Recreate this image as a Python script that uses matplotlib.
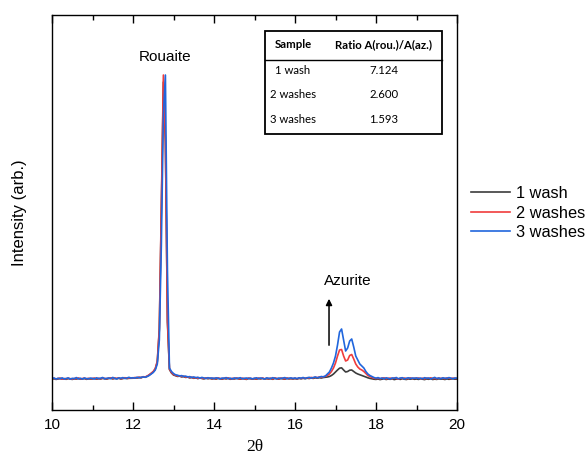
import matplotlib.pyplot as plt
from matplotlib.patches import Rectangle
from matplotlib.lines import Line2D
import numpy as np

plt.rcParams['font.family'] = ['Liberation Sans', 'DejaVu Sans']

#2theta grid, 0.05 deg steps from 10 to 20
two_theta = np.round(10 + 0.05 * np.arange(201), 2)

#intensities (arb. units)
wash_1 = [
    308, 313, 306, 311, 315, 309, 312, 307, 314, 310, 306, 312, 309, 315, 308, 311, 314, 307, 312, 310,
    311, 315, 308, 313, 310, 316, 312, 309, 315, 318, 311, 316, 313, 317, 310, 315, 319, 314, 317, 318,
    318, 322, 320, 325, 322, 330, 328, 337, 350, 365, 382, 410, 480, 800, 2000, 3280, 2680, 880, 405, 370,
    350, 343, 336, 339, 331, 334, 326, 329, 321, 325, 317, 322, 314, 320, 316, 311, 318, 313, 316, 310,
    314, 309, 316, 312, 308, 315, 311, 317, 307, 313, 310, 316, 312, 308, 314, 311, 306, 315, 312, 309,
    312, 308, 315, 311, 316, 309, 313, 310, 314, 307, 316, 312, 309, 315, 312, 308, 316, 311, 313, 310,
    314, 309, 316, 312, 317, 313, 318, 315, 320, 316, 322, 318, 323, 320, 325, 327, 330, 335, 345, 360,
    380, 400, 418, 422, 400, 380, 385, 398, 400, 385, 370, 360, 352, 345, 338, 330, 322, 316, 312, 308,
    306, 311, 304, 309, 313, 305, 310, 307, 312, 304, 309, 311, 306, 313, 308, 305, 311, 308, 312, 307,
    310, 306, 312, 308, 304, 311, 307, 313, 305, 309, 306, 312, 308, 310, 305, 311, 307, 309, 312, 308,
    309]
wash_2 = [
    312, 317, 310, 314, 319, 308, 315, 311, 318, 313, 309, 316, 312, 320, 310, 315, 318, 311, 317, 313,
    315, 319, 311, 317, 313, 320, 316, 312, 318, 322, 314, 319, 316, 321, 313, 318, 323, 317, 320, 322,
    320, 325, 322, 328, 324, 333, 330, 340, 352, 368, 385, 415, 490, 820, 2050, 3350, 2700, 900, 410, 375,
    355, 348, 340, 343, 335, 338, 329, 333, 324, 328, 320, 325, 317, 323, 319, 314, 321, 316, 319, 313,
    318, 312, 320, 315, 311, 319, 314, 321, 310, 317, 313, 320, 316, 311, 318, 314, 309, 319, 315, 312,
    316, 311, 319, 314, 320, 312, 317, 313, 318, 310, 321, 315, 312, 319, 316, 311, 320, 314, 317, 313,
    318, 312, 320, 315, 321, 317, 323, 319, 326, 321, 328, 324, 330, 327, 333, 337, 345, 360, 385, 420,
    470, 540, 600, 605, 540, 490, 500, 545, 555, 510, 460, 430, 410, 400, 385, 365, 345, 335, 325, 318,
    314, 320, 312, 318, 322, 311, 316, 319, 313, 321, 315, 310, 318, 316, 320, 312, 317, 321, 314, 318,
    316, 320, 313, 318, 311, 319, 315, 322, 314, 317, 312, 320, 316, 318, 313, 321, 317, 314, 319, 316,
    315]
wash_3 = [
    315, 320, 309, 318, 312, 322, 310, 316, 321, 308, 317, 313, 324, 311, 318, 309, 320, 314, 312, 319,
    316, 310, 322, 314, 318, 325, 312, 317, 320, 313, 326, 316, 311, 321, 318, 324, 315, 320, 327, 319,
    323, 318, 328, 322, 326, 331, 327, 335, 345, 360, 375, 400, 460, 700, 1650, 2950, 3350, 1400, 420, 385,
    365, 352, 348, 340, 344, 336, 339, 330, 334, 325, 331, 322, 328, 318, 326, 320, 315, 323, 317, 321,
    314, 322, 318, 311, 320, 316, 324, 313, 319, 310, 321, 315, 318, 323, 312, 317, 320, 314, 319, 311,
    318, 322, 313, 320, 316, 310, 321, 317, 314, 323, 318, 312, 320, 315, 319, 324, 313, 318, 321, 316,
    320, 314, 322, 318, 325, 316, 321, 327, 319, 324, 330, 322, 328, 335, 331, 340, 360, 380, 420, 470,
    540, 650, 780, 810, 700, 590, 620, 690, 710, 630, 540, 500, 460, 440, 420, 385, 360, 345, 335, 325,
    318, 324, 315, 320, 312, 322, 317, 310, 321, 316, 325, 313, 319, 323, 311, 318, 322, 315, 320, 317,
    321, 314, 319, 312, 323, 317, 320, 311, 318, 326, 315, 320, 313, 322, 318, 316, 324, 319, 312, 320,
    318]

labels = ["1 wash", "2 washes", "3 washes"]
colors = ["#3c3c3c", "#f03c3c", "#2066dd"]

table_header = ["Sample", "Ratio A(rou.)/A(az.)"]
table_samples = ["1 wash", "2 washes", "3 washes"]
table_ratios = ["7.124", "2.600", "1.593"]

fig = plt.figure(figsize=(5.88, 4.57), dpi=100)
ax = fig.add_axes([52/588, 1-410/457, 405/588, 395/457])

for y, lab, c in zip([wash_1, wash_2, wash_3], labels, colors):
    ax.plot(two_theta, y, color=c, lw=1.2, label=lab)

ax.set_xlim(10, 20)
ax.set_ylim(0, 3950)
ax.set_xticks(np.arange(10, 21, 2))
ax.set_xticks(np.arange(11, 20, 2), minor=True)
ax.set_yticks([])
ax.tick_params(axis='x', which='both', direction='in', top=True, bottom=True, labelsize=11, pad=6)
ax.tick_params(axis='x', which='major', length=6, width=1)
ax.tick_params(axis='x', which='minor', length=3.5, width=1)
for s in ax.spines.values():
    s.set_linewidth(1.0)

ax.set_xlabel("2θ", family=['Liberation Serif', 'DejaVu Serif'], fontsize=12.5, labelpad=5)
ax.set_ylabel("Intensity (arb.)", fontsize=12, labelpad=18)

#peak labels
ax.text(12.8, 3530, "Rouaite", ha='center', va='center', fontsize=11)
ax.text(17.3, 1290, "Azurite", ha='center', va='center', fontsize=11)
ax.annotate('', xy=(16.84, 1140), xytext=(16.84, 620),
            arrowprops=dict(arrowstyle='-|>', color='black', lw=1.1, mutation_scale=9))

#ratio table drawn in figure pixels
W, H = 588, 457
def fx(px): return px / W
def fy(py): return 1 - py / H

fig.add_artist(Rectangle((fx(265), fy(134)), fx(442) - fx(265), fy(31.5) - fy(134),
                         transform=fig.transFigure, fill=False, lw=1.3, ec='black'))
fig.add_artist(Line2D([fx(265), fx(442)], [fy(59.5), fy(59.5)], transform=fig.transFigure,
                      color='black', lw=1.0))
tfont = ['Lato', 'DejaVu Sans']
col_x = [fx(293), fx(384)]
fig.text(col_x[0], fy(45), table_header[0], ha='center', va='center', fontsize=8.2,
         weight='bold', family=tfont)
fig.text(col_x[1], fy(45), table_header[1], ha='center', va='center', fontsize=8.2,
         weight='bold', family=tfont)
for py, s, r in zip([70, 94, 119], table_samples, table_ratios):
    fig.text(col_x[0], fy(py), s, ha='center', va='center', fontsize=8.2, family=tfont)
    fig.text(col_x[1], fy(py), r, ha='center', va='center', fontsize=8.2, family=tfont)

fig.legend(loc='center left', bbox_to_anchor=(459.5/588, 1-213/457), frameon=False,
           fontsize=11.8, handlelength=2.4, handletextpad=0.35, labelspacing=0.28,
           borderpad=0.2)

fig.savefig("out.png", dpi=100)
